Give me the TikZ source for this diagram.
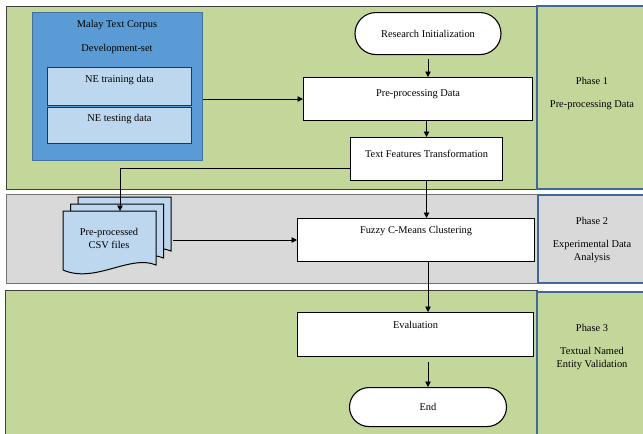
\documentclass[tikz,border=0pt]{standalone}
\usepackage{fontspec}
\setmainfont{Liberation Serif}
\usepackage{tikz}
\usetikzlibrary{
  arrows.meta,
  positioning,
  shapes.misc
}

\definecolor{bandgreen}{HTML}{C4D79B}
\definecolor{bandgrey}{HTML}{D9D9D9}
\definecolor{corpusblue}{HTML}{5B9BD5}
\definecolor{corpusedge}{HTML}{41719C}
\definecolor{lightblue}{HTML}{BDD7EE}
\definecolor{phaseedge}{HTML}{41689A}

\begin{document}
\begin{tikzpicture}[x=1pt, y=-1pt,
    font=\fontsize{10.4}{13}\selectfont,
    band/.style={draw=black!75, line width=0.8pt},
    phasebox/.style={draw=phaseedge, line width=1.4pt},
    phaselabel/.style={align=center},
    procbox/.style={draw, fill=white, line width=1.1pt, inner ysep=0pt, anchor=north west},
    terminal/.style={draw, fill=white, rounded rectangle, line width=1.1pt, inner sep=0pt, anchor=north},
    nebox/.style={draw=black!80, fill=lightblue, line width=0.9pt, inner ysep=0pt, anchor=north west, minimum width=144pt},
    flow/.style={-{Triangle[length=5.5pt,width=5.5pt]}, line width=0.7pt}
]
    \clip (0,0) rectangle (643,434);

    % Phase bands
    \draw[band, fill=bandgreen] (6,6) rectangle (537,189);
    \draw[phasebox, fill=bandgreen] (537,6) rectangle (648,189);
    \draw[band, draw=black!55, fill=bandgrey] (6,194) rectangle (538,283);
    \draw[phasebox, fill=bandgrey] (538,195) rectangle (648,283);
    \draw[band, fill=bandgreen] (5,290) rectangle (537,440);
    \draw[phasebox, fill=bandgreen] (537,292) rectangle (648,440);

    \node[phaselabel] (phase1) at (592,94) {Phase 1\\[10pt]Pre-processing Data};
    \node[phaselabel] (phase2) at (592,240) {Phase 2\\[10pt]Experimental Data\\Analysis};
    \node[phaselabel] (phase3) at (592,347) {Phase 3\\[10pt]Textual Named\\Entity Validation};

    % Corpus
    \node[draw=corpusedge, fill=corpusblue, line width=1pt, minimum width=170pt,
          minimum height=148pt, anchor=north west] (corpus) at (32,12) {};
    \node (corpustitle) at (117,25) {Malay Text Corpus};
    \node (devset) at (117,49) {Development-set};
    \node[nebox, text height=15pt, text depth=23pt] (training) at (47,67) {NE training data};
    \node[nebox, text height=14pt, text depth=22pt] (testing) at (47,107) {NE testing data};

    % Flow steps
    \node[terminal, minimum width=146pt, minimum height=42pt] (research) at (428,12) {Research Initialization};
    \node[procbox, minimum width=229pt, text height=19pt, text depth=24pt] (prep) at (303,77) {Pre-processing Data};
    \node[procbox, minimum width=152pt, text height=20pt, text depth=23pt] (features) at (350,137) {Text Features Transformation};
    \node[procbox, minimum width=237pt, text height=15pt, text depth=28pt] (fuzzy) at (297,218) {Fuzzy C-Means Clustering};
    \node[procbox, minimum width=236pt, text height=16pt, text depth=28pt] (eval) at (297,312) {Evaluation};
    \node[terminal, minimum width=157pt, minimum height=39pt] (end) at (428,387) {End};

    % CSV files
    \foreach \d in {2,1,0} {
        \draw[fill=lightblue, line width=1pt, shift={(7.5*\d,-7*\d)}]
            (63,211) -- (156,211) -- (156,265)
            .. controls (130,254) and (95,284) .. (63,270) -- cycle;
    }
    \node[align=center] (csv) at (109,238) {Pre-processed\\CSV files};
    \coordinate (csvtop) at (120,211);
    \coordinate (csvright) at (173,240);

    % Connectors
    \draw[flow] (corpus.east |- prep.west) -- (prep.west);
    \draw[flow, shorten <=4pt] (research.south) -- (research.south |- prep.north);
    \draw[flow] (prep.south -| features.north) -- (features.north);
    \draw[flow] ([yshift=-9.5pt]features.west) -| (csvtop);
    \draw[flow] (features.south) -- (features.south |- fuzzy.north);
    \draw[flow] (csvright) -- (fuzzy.west |- csvright);
    \draw[flow] (fuzzy.south -| end.north) -- (eval.north -| end.north);
    \draw[flow, shorten <=5pt] (eval.south -| end.north) -- (end.north);
\end{tikzpicture}
\end{document}
